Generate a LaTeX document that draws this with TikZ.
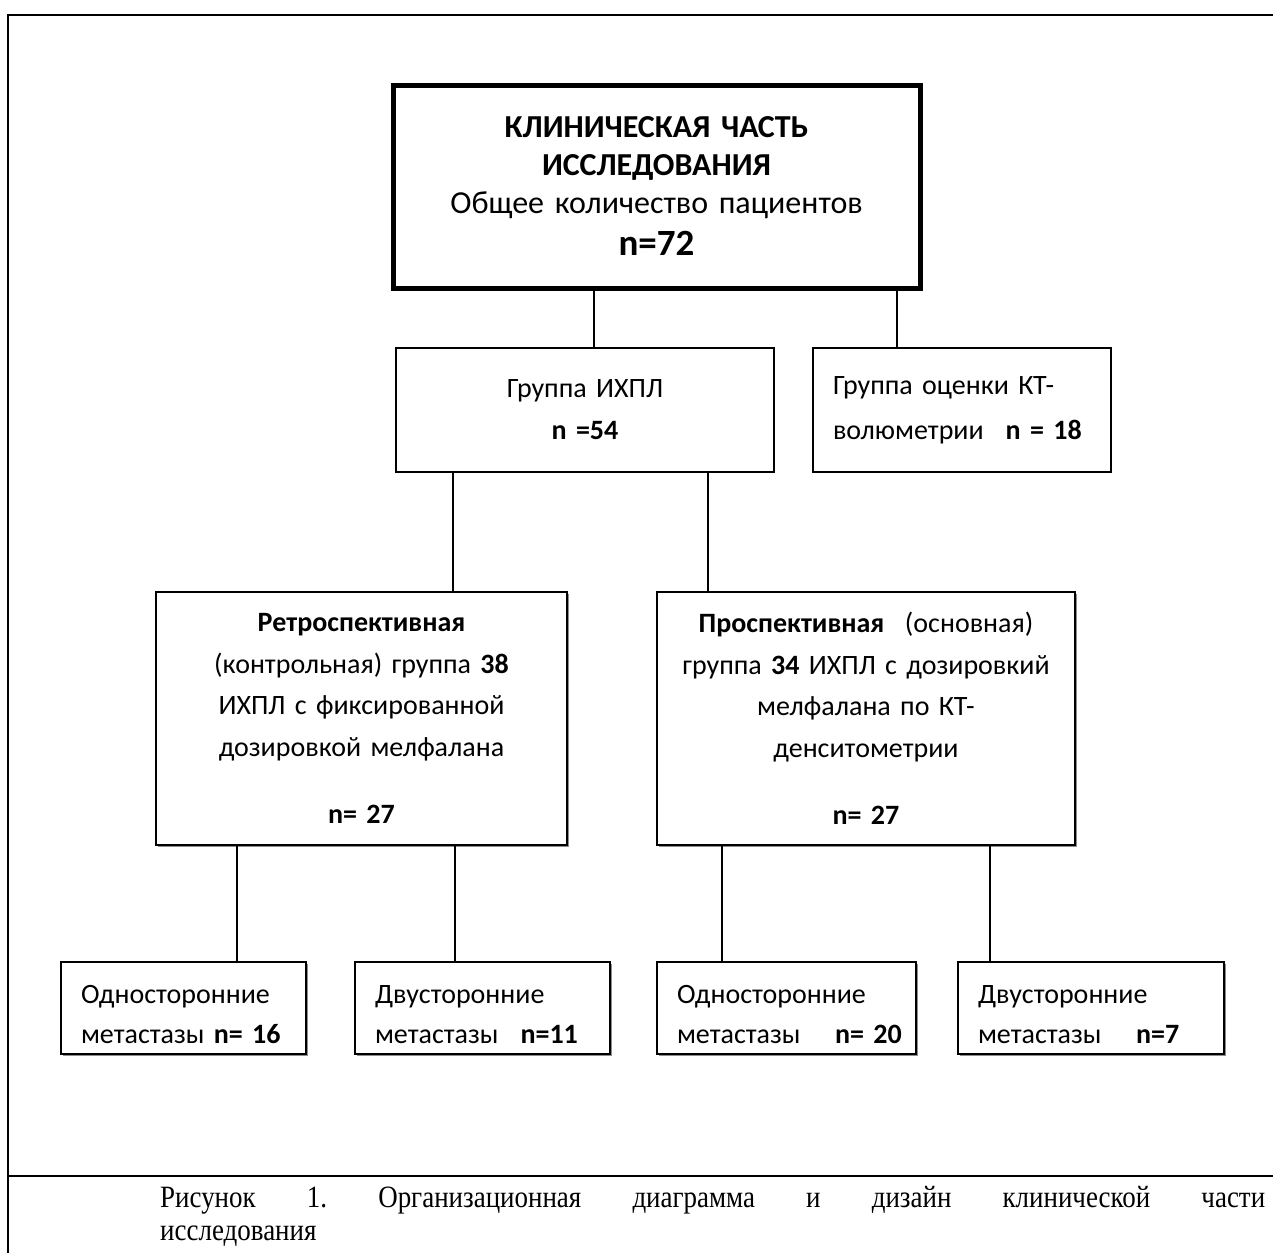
\documentclass[tikz,border=0pt]{standalone}
\usepackage{fontspec}
\setmainfont{Carlito}
\newfontfamily\capfont[FakeStretch=0.87]{Liberation Serif}
\usetikzlibrary{shadows}
\begin{document}
\frenchspacing
\begin{tikzpicture}[x=1pt,y=-1pt,
  box/.style={draw, rectangle, line width=1.8pt, fill=white, inner ysep=0pt, inner xsep=5pt,
    font=\fontsize{28}{42}\selectfont},
  cbox/.style={box, align=center},
  lbox/.style={box, align=left, inner xsep=20pt},
  bbox/.style={lbox, shad, minimum height=92pt, text height=32pt, font=\fontsize{28}{40}\selectfont},
  shad/.style={drop shadow={shadow xshift=1.5pt, shadow yshift=-1.5pt, fill=black!45, opacity=1}},
  frame/.style={line width=2.5pt},
  conn/.style={line width=1.6pt},
  captxt/.style={anchor=base west, inner sep=0pt, font=\capfont\fontsize{31}{34}\selectfont}]
\useasboundingbox (0,0) rectangle (1273,1255);

% outer frame
\draw[frame] (1273,15) -- (8,15) -- (8,1253);
\draw[frame] (8,1176) -- (1273,1176);

% top box
\node[cbox, line width=5pt, minimum width=527pt, minimum height=203pt, text width=517pt,
  font=\fontsize{32}{38}\selectfont] (top) at (656.5,186.5)
  {\textbf{КЛИНИЧЕСКАЯ ЧАСТЬ}\\ \textbf{ИССЛЕДОВАНИЯ}\\ Общее количество пациентов\\[4pt]
   {\fontsize{37}{42}\selectfont\textbf{n=72}}};

% second row
\node[cbox, minimum width=378pt, minimum height=124pt, text width=368pt] (ihpl) at (585,410)
  {Группа ИХПЛ\\ \textbf{n =54}};
\node[lbox, minimum width=298pt, minimum height=124pt, text width=258pt,
  font=\fontsize{28}{45}\selectfont] (kt) at (962,410)
  {\mbox{Группа оценки КТ-}\\ \mbox{волюметрии\hspace{0.45em} \textbf{n = 18}}};

% third row
\node[cbox, shad, minimum width=411pt, minimum height=253pt, text width=401pt,
  font=\fontsize{28}{41.5}\selectfont] (retro) at (361.5,718.5)
  {\textbf{Ретроспективная}\\ \mbox{(контрольная) группа \textbf{38}}\\ \mbox{ИХПЛ с фиксированной}\\
   \mbox{дозировкой мелфалана}\\[26pt] \textbf{n= 27}};
\node[cbox, shad, minimum width=418pt, minimum height=253pt, text width=408pt,
  font=\fontsize{28}{41.5}\selectfont] (prosp) at (866,718.5)
  {\mbox{\textbf{Проспективная}\hspace{0.4em} (основная)}\\ \mbox{группа \textbf{34} ИХПЛ с дозировкий}\\
   \mbox{мелфалана по КТ-}\\ денситометрии\\[26pt] \textbf{n= 27}};

% bottom row
\node[bbox, minimum width=245pt, text width=205pt] (b1) at (183.5,1008)
  {\mbox{Односторонние}\\ \mbox{метастазы \textbf{n= 16}}};
\node[bbox, minimum width=255pt, text width=215pt] (b2) at (482.5,1008)
  {\mbox{Двусторонние}\\ \mbox{метастазы\hspace{0.45em} \textbf{n=11}}};
\node[bbox, minimum width=259pt, text width=219pt] (b3) at (786.5,1008)
  {\mbox{Односторонние}\\ \mbox{метастазы\hspace{0.9em} \textbf{n= 20}}};
\node[bbox, minimum width=266pt, text width=226pt] (b4) at (1091,1008)
  {\mbox{Двусторонние}\\ \mbox{метастазы\hspace{0.9em} \textbf{n=7}}};

% connectors
\coordinate (x1) at (594,0);
\coordinate (x2) at (897,0);
\coordinate (x3) at (453,0);
\coordinate (x4) at (708,0);
\coordinate (x5) at (237,0);
\coordinate (x6) at (455,0);
\coordinate (x7) at (722,0);
\coordinate (x8) at (990,0);
\draw[conn] (x1 |- top.south) -- (x1 |- ihpl.north);
\draw[conn] (x2 |- top.south) -- (x2 |- kt.north);
\draw[conn] (x3 |- ihpl.south) -- (x3 |- retro.north);
\draw[conn] (x4 |- ihpl.south) -- (x4 |- prosp.north);
\draw[conn] (x5 |- retro.south) -- (x5 |- b1.north);
\draw[conn] (x6 |- retro.south) -- (x6 |- b2.north);
\draw[conn] (x7 |- prosp.south) -- (x7 |- b3.north);
\draw[conn] (x8 |- prosp.south) -- (x8 |- b4.north);

% caption
\node[captxt] (cap1) at (160,1207)
  {\makebox[1105pt][s]{Рисунок 1. Организационная диаграмма и дизайн клинической части}};
\node[captxt] (cap2) at (160,1240) {исследования};
\end{tikzpicture}
\end{document}
